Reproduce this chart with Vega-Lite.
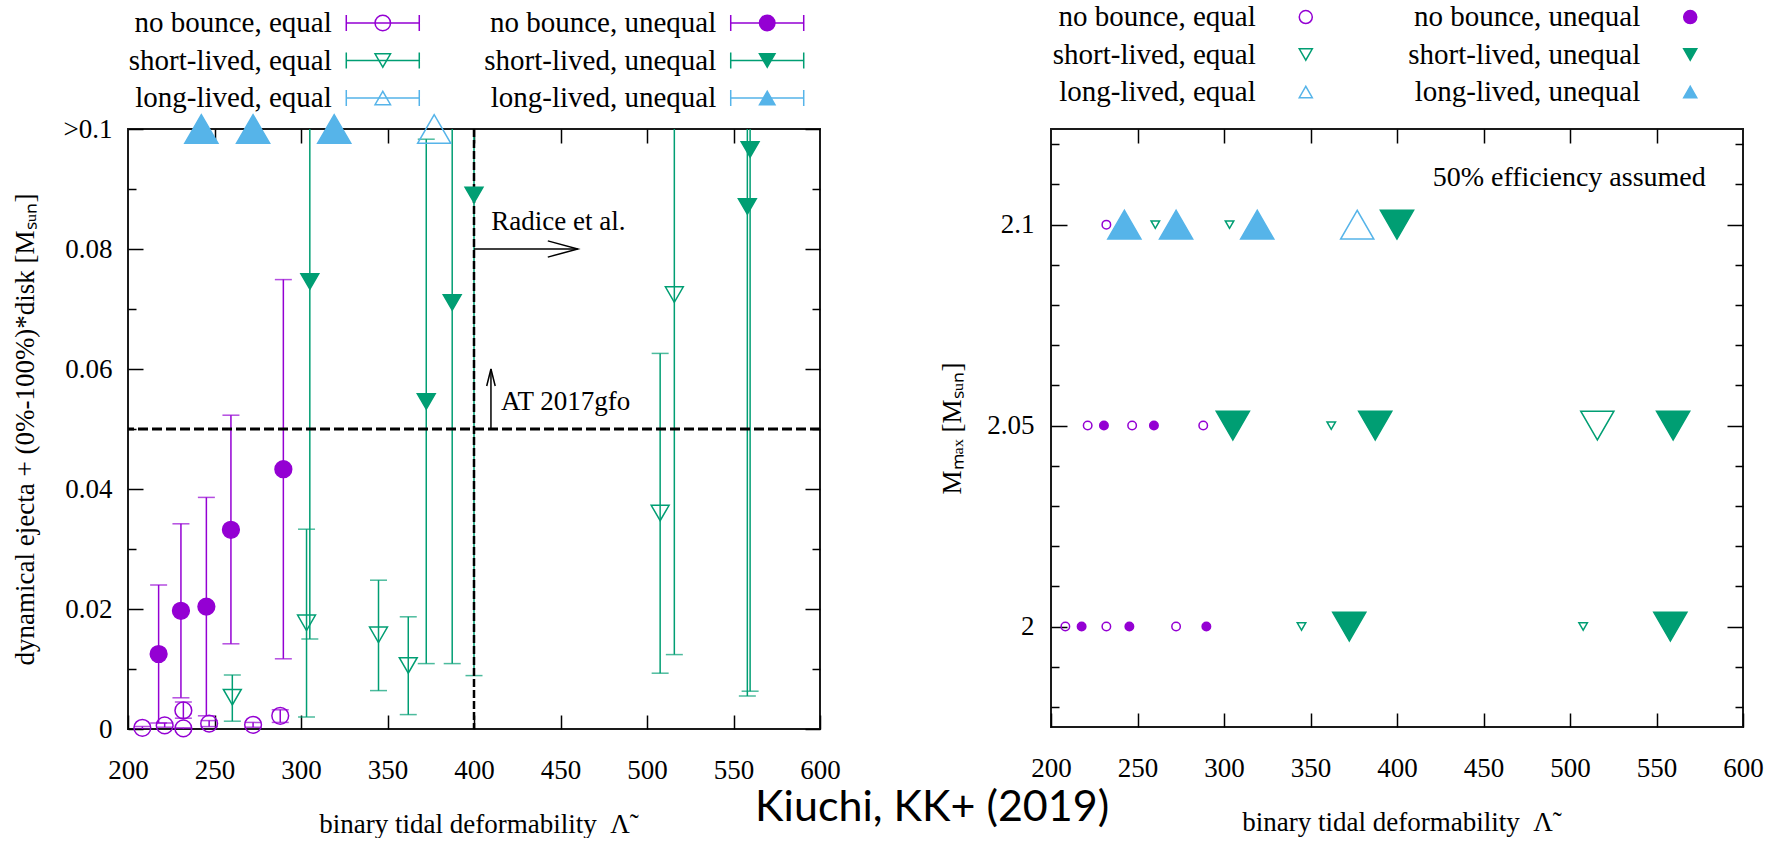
{
  "$schema": "https://vega.github.io/schema/vega-lite/v6.json",
  "background": "white",
  "padding": {"left": 10, "top": 0, "right": 5, "bottom": 0},
  "autosize": {"type": "pad"},
  "title": {"text": "Kiuchi, KK+ (2019)", "orient": "bottom", "anchor": "middle", "font": "Lato", "fontSize": 43, "fontWeight": "normal", "color": "#000", "offset": -51, "dx": 45},
  "config": {
    "font": "Liberation Serif",
    "view": {"stroke": "#1a1a1a", "strokeWidth": 2},
    "axis": {"grid": false, "domain": false, "tickColor": "#000", "tickWidth": 1.5, "labelFont": "Liberation Serif", "labelFontSize": 27, "labelColor": "#000", "titleFont": "Liberation Serif", "titleFontSize": 27, "titleFontWeight": "normal", "titleColor": "#000", "labelFlush": false, "labelOverlap": false, "labelBound": false},
    "legend": {"disable": true}
  },
  "datasets": {
    "runs": [
      {"lam": 208.3, "mmax": 2.0, "model": "no bounce", "ratio": "equal", "mej": 0.0002, "lo": 0.0, "hi": 0.0004},
      {"lam": 221.2, "mmax": 2.05, "model": "no bounce", "ratio": "equal", "mej": 0.0006, "lo": 0.0003, "hi": 0.001},
      {"lam": 232.0, "mmax": 2.1, "model": "no bounce", "ratio": "equal", "mej": 0.0031, "lo": 0.0018, "hi": 0.0045},
      {"lam": 232.0, "mmax": 2.0, "model": "no bounce", "ratio": "equal", "mej": 0.0001, "lo": 0.0, "hi": 0.0002},
      {"lam": 246.9, "mmax": 2.05, "model": "no bounce", "ratio": "equal", "mej": 0.0009, "lo": 0.0004, "hi": 0.0014},
      {"lam": 272.3, "mmax": 2.0, "model": "no bounce", "ratio": "equal", "mej": 0.0007, "lo": 0.0003, "hi": 0.0011},
      {"lam": 288.0, "mmax": 2.05, "model": "no bounce", "ratio": "equal", "mej": 0.0022, "lo": 0.0011, "hi": 0.0032},
      {"lam": 217.7, "mmax": 2.0, "model": "no bounce", "ratio": "unequal", "mej": 0.0125, "lo": 0.001, "hi": 0.024},
      {"lam": 230.6, "mmax": 2.05, "model": "no bounce", "ratio": "unequal", "mej": 0.0197, "lo": 0.0052, "hi": 0.0342},
      {"lam": 245.3, "mmax": 2.0, "model": "no bounce", "ratio": "unequal", "mej": 0.0204, "lo": 0.0022, "hi": 0.0386},
      {"lam": 259.5, "mmax": 2.05, "model": "no bounce", "ratio": "unequal", "mej": 0.0332, "lo": 0.0142, "hi": 0.0523},
      {"lam": 289.8, "mmax": 2.0, "model": "no bounce", "ratio": "unequal", "mej": 0.0433, "lo": 0.0117, "hi": 0.0749},
      {"lam": 260.3, "mmax": 2.1, "model": "short-lived", "ratio": "equal", "mej": 0.0053, "lo": 0.0013, "hi": 0.009},
      {"lam": 303.2, "mmax": 2.1, "model": "short-lived", "ratio": "equal", "mej": 0.0177, "lo": 0.002, "hi": 0.0333},
      {"lam": 344.8, "mmax": 2.0, "model": "short-lived", "ratio": "equal", "mej": 0.0157, "lo": 0.0064, "hi": 0.0248},
      {"lam": 362.0, "mmax": 2.05, "model": "short-lived", "ratio": "equal", "mej": 0.0106, "lo": 0.0024, "hi": 0.0187},
      {"lam": 507.6, "mmax": 2.0, "model": "short-lived", "ratio": "equal", "mej": 0.036, "lo": 0.0093, "hi": 0.0626},
      {"lam": 515.8, "mmax": 2.05, "model": "short-lived", "ratio": "equal", "mej": 0.0724, "lo": 0.0124, "hi": 0.1324},
      {"lam": 305.1, "mmax": 2.05, "model": "short-lived", "ratio": "unequal", "mej": 0.0746, "lo": 0.015, "hi": 0.1342},
      {"lam": 372.4, "mmax": 2.0, "model": "short-lived", "ratio": "unequal", "mej": 0.0546, "lo": 0.0109, "hi": 0.0983},
      {"lam": 387.4, "mmax": 2.05, "model": "short-lived", "ratio": "unequal", "mej": 0.0711, "lo": 0.0109, "hi": 0.1313},
      {"lam": 400.0, "mmax": 2.1, "model": "short-lived", "ratio": "unequal", "mej": 0.089, "lo": 0.0089, "hi": 0.1691},
      {"lam": 559.6, "mmax": 2.05, "model": "short-lived", "ratio": "unequal", "mej": 0.0966, "lo": 0.0063, "hi": 0.1869},
      {"lam": 558.0, "mmax": 2.0, "model": "short-lived", "ratio": "unequal", "mej": 0.0871, "lo": 0.0055, "hi": 0.1687},
      {"lam": 242.4, "mmax": 2.1, "model": "long-lived", "ratio": "unequal", "mej": 0.1},
      {"lam": 272.3, "mmax": 2.1, "model": "long-lived", "ratio": "unequal", "mej": 0.1},
      {"lam": 319.2, "mmax": 2.1, "model": "long-lived", "ratio": "unequal", "mej": 0.1},
      {"lam": 377.0, "mmax": 2.1, "model": "long-lived", "ratio": "equal", "mej": 0.1}
    ],
    "keys": [
      {"model": "no bounce", "ratio": "equal", "label": "no bounce, equal"},
      {"model": "no bounce", "ratio": "unequal", "label": "no bounce, unequal"},
      {"model": "short-lived", "ratio": "equal", "label": "short-lived, equal"},
      {"model": "short-lived", "ratio": "unequal", "label": "short-lived, unequal"},
      {"model": "long-lived", "ratio": "equal", "label": "long-lived, equal"},
      {"model": "long-lived", "ratio": "unequal", "label": "long-lived, unequal"}
    ],
    "notes": [
      {"text": "Radice et al.", "lam": 410, "val": 0.0832},
      {"text": "AT 2017gfo", "lam": 415.6, "val": 0.0532}
    ],
    "arrows": [
      {"name": "Radice et al.", "dir": "right", "lam": 400, "lam2": 460, "val": 0.08, "val2": 0.08},
      {"name": "AT 2017gfo", "dir": "up", "lam": 409.8, "lam2": 409.8, "val": 0.05, "val2": 0.06}
    ]
  },
  "columns": 2,
  "bounds": "flush",
  "spacing": {"row": 8, "column": 231},
  "resolve": {"scale": {"size": "independent", "shape": "independent", "fill": "independent", "stroke": "independent", "fillOpacity": "independent", "color": "independent"}},
  "concat": [
    {
      "width": 692, "height": 121,
      "view": {"stroke": null},
      "data": {"name": "keys"},
      "encoding": {
        "x": {"field": "ratio", "type": "nominal", "axis": null, "scale": {"type": "point", "domain": ["equal", "unequal"], "padding": 0.4}},
        "y": {"field": "model", "type": "nominal", "axis": null, "scale": {"type": "point", "domain": ["no bounce", "short-lived", "long-lived"], "padding": 0.613}}
      },
      "layer": [
        {"mark": {"type": "text", "align": "right", "baseline": "middle", "dx": 50, "fontSize": 29, "font": "Liberation Serif", "color": "#000"}, "encoding": {"text": {"field": "label"}}},
        {"mark": {"type": "point", "shape": "M -1 0 L 1 0 M -1 -0.22 L -1 0.22 M 1 -0.22 L 1 0.22", "size": 5329, "filled": false, "strokeWidth": 1.5, "xOffset": 101, "opacity": 1},
         "encoding": {"stroke": {"field": "model", "type": "nominal", "scale": {"domain": ["no bounce", "short-lived", "long-lived"], "range": ["#9400d3", "#009e73", "#56b4e9"]}, "legend": null}}},
        {"mark": {"type": "point", "filled": true, "strokeWidth": 1.5, "xOffset": 101, "size": 240, "opacity": 1},
         "encoding": {
           "shape": {"field": "model", "type": "nominal", "scale": {"domain": ["no bounce", "short-lived", "long-lived"], "range": ["circle", "triangle-down", "triangle-up"]}, "legend": null},
           "fill": {"field": "model", "type": "nominal", "scale": {"domain": ["no bounce", "short-lived", "long-lived"], "range": ["#9400d3", "#009e73", "#56b4e9"]}, "legend": null},
           "stroke": {"field": "model", "type": "nominal", "scale": {"domain": ["no bounce", "short-lived", "long-lived"], "range": ["#9400d3", "#009e73", "#56b4e9"]}, "legend": null},
           "fillOpacity": {"field": "ratio", "type": "nominal", "scale": {"domain": ["equal", "unequal"], "range": [0, 1]}, "legend": null}
         }}
      ]
    },
    {
      "width": 692, "height": 116,
      "view": {"stroke": null},
      "data": {"name": "keys"},
      "encoding": {
        "x": {"field": "ratio", "type": "nominal", "axis": null, "scale": {"type": "point", "domain": ["equal", "unequal"], "padding": 0.4}},
        "y": {"field": "model", "type": "nominal", "axis": null, "scale": {"type": "point", "domain": ["no bounce", "short-lived", "long-lived"], "padding": 0.547, "align": 0.415}}
      },
      "layer": [
        {"mark": {"type": "text", "align": "right", "baseline": "middle", "dx": 51, "fontSize": 29, "font": "Liberation Serif", "color": "#000"}, "encoding": {"text": {"field": "label"}}},
        {"mark": {"type": "point", "filled": true, "strokeWidth": 1.5, "xOffset": 101, "size": 170, "opacity": 1},
         "encoding": {
           "shape": {"field": "model", "type": "nominal", "scale": {"domain": ["no bounce", "short-lived", "long-lived"], "range": ["circle", "triangle-down", "triangle-up"]}, "legend": null},
           "fill": {"field": "model", "type": "nominal", "scale": {"domain": ["no bounce", "short-lived", "long-lived"], "range": ["#9400d3", "#009e73", "#56b4e9"]}, "legend": null},
           "stroke": {"field": "model", "type": "nominal", "scale": {"domain": ["no bounce", "short-lived", "long-lived"], "range": ["#9400d3", "#009e73", "#56b4e9"]}, "legend": null},
           "fillOpacity": {"field": "ratio", "type": "nominal", "scale": {"domain": ["equal", "unequal"], "range": [0, 1]}, "legend": null}
         }}
      ]
    },
    {
      "width": 692, "height": 600,
      "resolve": {"axis": {"x": "independent", "y": "independent"}},
      "layer": [
        {
          "data": {"name": "runs"},
          "transform": [{"filter": "isValid(datum.lo)"}],
          "mark": {"type": "rule", "strokeWidth": 1.5, "clip": true},
          "encoding": {
            "x": {"field": "lam", "type": "quantitative", "scale": {"domain": [200, 600], "nice": false, "zero": false},
                  "axis": {"orient": "bottom", "values": [200, 250, 300, 350, 400, 450, 500, 550, 600], "tickSize": -14, "labelPadding": 42, "title": "binary tidal deformability\u2002Λ̃", "titlePadding": 28}},
            "y": {"field": "lo", "type": "quantitative", "scale": {"domain": [0, 0.1], "nice": false, "zero": false},
                  "axis": {"orient": "left", "values": [0, 0.02, 0.04, 0.06, 0.08, 0.1], "tickSize": -15, "labelPadding": 31, "labelExpr": "datum.value > 0.099 ? '>0.1' : format(datum.value, '~g')", "title": "dynamical ejecta + (0%-100%)*disk [Mₛᵤₙ]", "titlePadding": 24}},
            "y2": {"field": "hi"},
            "stroke": {"field": "model", "type": "nominal", "scale": {"domain": ["no bounce", "short-lived", "long-lived"], "range": ["#9400d3", "#009e73", "#56b4e9"]}, "legend": null}
          }
        },
        {
          "data": {"name": "runs"},
          "transform": [{"filter": "isValid(datum.lo)"}],
          "mark": {"type": "tick", "orient": "horizontal", "size": 17, "thickness": 1.5, "clip": true},
          "encoding": {
            "x": {"field": "lam", "type": "quantitative", "scale": {"domain": [200, 600], "nice": false, "zero": false},
                  "axis": {"orient": "top", "values": [250, 300, 350, 400, 450, 500, 550], "tickSize": -14, "labels": false, "title": null}},
            "y": {"field": "lo", "type": "quantitative", "scale": {"domain": [0, 0.1], "nice": false, "zero": false},
                  "axis": {"orient": "right", "values": [0, 0.02, 0.04, 0.06, 0.08, 0.1], "tickSize": -15, "labels": false, "title": null}},
            "color": {"field": "model", "type": "nominal", "scale": {"domain": ["no bounce", "short-lived", "long-lived"], "range": ["#9400d3", "#009e73", "#56b4e9"]}, "legend": null}
          }
        },
        {
          "data": {"name": "runs"},
          "transform": [{"filter": "isValid(datum.hi)"}],
          "mark": {"type": "tick", "orient": "horizontal", "size": 17, "thickness": 1.5, "clip": true},
          "encoding": {
            "x": {"field": "lam", "type": "quantitative", "scale": {"domain": [200, 600], "nice": false, "zero": false}, "axis": null},
            "y": {"field": "hi", "type": "quantitative", "scale": {"domain": [0, 0.1], "nice": false, "zero": false},
                  "axis": {"orient": "left", "values": [0.01, 0.03, 0.05, 0.07, 0.09], "tickSize": -8, "labels": false, "title": null}},
            "color": {"field": "model", "type": "nominal", "scale": {"domain": ["no bounce", "short-lived", "long-lived"], "range": ["#9400d3", "#009e73", "#56b4e9"]}, "legend": null}
          }
        },
        {
          "data": {"values": [{"line": "Radice et al.", "lam": 400}]},
          "mark": {"type": "rule", "color": "#000", "strokeWidth": 2.5, "strokeDash": [8, 3]},
          "encoding": {
            "x": {"field": "lam", "type": "quantitative", "scale": {"domain": [200, 600], "nice": false, "zero": false}, "axis": null}
          }
        },
        {
          "data": {"values": [{"line": "AT 2017gfo", "val": 0.05}]},
          "mark": {"type": "rule", "color": "#000", "strokeWidth": 3, "strokeDash": [10, 4]},
          "encoding": {
            "y": {"field": "val", "type": "quantitative", "scale": {"domain": [0, 0.1], "nice": false, "zero": false}, "axis": null}
          }
        },
        {
          "data": {"name": "runs"},
          "mark": {"type": "point", "filled": true, "strokeWidth": 1.5, "opacity": 1, "clip": false},
          "encoding": {
            "x": {"field": "lam", "type": "quantitative", "scale": {"domain": [200, 600], "nice": false, "zero": false}, "axis": null},
            "y": {"field": "mej", "type": "quantitative", "scale": {"domain": [0, 0.1], "nice": false, "zero": false},
                  "axis": {"orient": "right", "values": [0.01, 0.03, 0.05, 0.07, 0.09], "tickSize": -8, "labels": false, "title": null}},
            "shape": {"field": "model", "type": "nominal", "scale": {"domain": ["no bounce", "short-lived", "long-lived"], "range": ["circle", "triangle-down", "triangle-up"]}, "legend": null},
            "fill": {"field": "model", "type": "nominal", "scale": {"domain": ["no bounce", "short-lived", "long-lived"], "range": ["#9400d3", "#009e73", "#56b4e9"]}, "legend": null},
            "stroke": {"field": "model", "type": "nominal", "scale": {"domain": ["no bounce", "short-lived", "long-lived"], "range": ["#9400d3", "#009e73", "#56b4e9"]}, "legend": null},
            "fillOpacity": {"field": "ratio", "type": "nominal", "scale": {"domain": ["equal", "unequal"], "range": [0, 1]}, "legend": null},
            "size": {"field": "model", "type": "nominal", "scale": {"type": "ordinal", "domain": ["no bounce", "short-lived", "long-lived"], "range": [280, 320, 1100]}, "legend": null}
          }
        },
        {
          "data": {"name": "arrows"},
          "mark": {"type": "rule", "color": "#000", "strokeWidth": 1.5},
          "encoding": {
            "x": {"field": "lam", "type": "quantitative", "scale": {"domain": [200, 600], "nice": false, "zero": false}, "axis": null},
            "x2": {"field": "lam2"},
            "y": {"field": "val", "type": "quantitative", "scale": {"domain": [0, 0.1], "nice": false, "zero": false}, "axis": null},
            "y2": {"field": "val2"}
          }
        },
        {
          "data": {"name": "arrows"},
          "transform": [{"filter": "datum.dir == 'right'"}],
          "mark": {"type": "point", "shape": "M -1 -0.27 L 0 0 L -1 0.27", "size": 3600, "filled": false, "stroke": "#000", "strokeWidth": 1.5, "opacity": 1},
          "encoding": {
            "x": {"field": "lam2", "type": "quantitative", "scale": {"domain": [200, 600], "nice": false, "zero": false}, "axis": null},
            "y": {"field": "val2", "type": "quantitative", "scale": {"domain": [0, 0.1], "nice": false, "zero": false}, "axis": null}
          }
        },
        {
          "data": {"name": "arrows"},
          "transform": [{"filter": "datum.dir == 'up'"}],
          "mark": {"type": "point", "shape": "M -0.25 1 L 0 0 L 0.25 1", "size": 1156, "filled": false, "stroke": "#000", "strokeWidth": 1.5, "opacity": 1},
          "encoding": {
            "x": {"field": "lam2", "type": "quantitative", "scale": {"domain": [200, 600], "nice": false, "zero": false}, "axis": null},
            "y": {"field": "val2", "type": "quantitative", "scale": {"domain": [0, 0.1], "nice": false, "zero": false}, "axis": null}
          }
        },
        {
          "data": {"name": "notes"},
          "mark": {"type": "text", "align": "left", "baseline": "alphabetic", "fontSize": 27, "font": "Liberation Serif", "color": "#000"},
          "encoding": {
            "x": {"field": "lam", "type": "quantitative", "scale": {"domain": [200, 600], "nice": false, "zero": false}, "axis": null},
            "y": {"field": "val", "type": "quantitative", "scale": {"domain": [0, 0.1], "nice": false, "zero": false}, "axis": null},
            "text": {"field": "text"}
          }
        }
      ]
    },
    {
      "width": 692, "height": 598,
      "resolve": {"axis": {"x": "independent", "y": "independent"}},
      "layer": [
        {
          "data": {"name": "runs"},
          "transform": [{"filter": "datum.model == 'no bounce'"}],
          "mark": {"type": "point", "filled": true, "strokeWidth": 1.5, "opacity": 1, "clip": false},
          "encoding": {
            "x": {"field": "lam", "type": "quantitative", "scale": {"domain": [200, 600], "nice": false, "zero": false},
                  "axis": {"orient": "bottom", "values": [200, 250, 300, 350, 400, 450, 500, 550, 600], "tickSize": -14, "labelPadding": 42, "title": "binary tidal deformability\u2002Λ̃", "titlePadding": 28}},
            "y": {"field": "mmax", "type": "quantitative", "scale": {"domain": [1.975, 2.1238], "nice": false, "zero": false},
                  "axis": {"orient": "left", "values": [2, 2.05, 2.1], "tickSize": -16, "labelPadding": 33, "labelExpr": "format(datum.value, '~g')", "title": "Mₘₐₓ [Mₛᵤₙ]", "titlePadding": 20}},
            "shape": {"field": "model", "type": "nominal", "scale": {"domain": ["no bounce", "short-lived", "long-lived"], "range": ["circle", "triangle-down", "triangle-up"]}, "legend": null},
            "fill": {"field": "model", "type": "nominal", "scale": {"domain": ["no bounce", "short-lived", "long-lived"], "range": ["#9400d3", "#009e73", "#56b4e9"]}, "legend": null},
            "stroke": {"field": "model", "type": "nominal", "scale": {"domain": ["no bounce", "short-lived", "long-lived"], "range": ["#9400d3", "#009e73", "#56b4e9"]}, "legend": null},
            "fillOpacity": {"field": "ratio", "type": "nominal", "scale": {"domain": ["equal", "unequal"], "range": [0, 1]}, "legend": null},
            "size": {"field": "mej", "type": "quantitative", "scale": {"type": "threshold", "domain": [0.05], "range": [72, 1100]}, "legend": null}
          }
        },
        {
          "data": {"name": "runs"},
          "transform": [{"filter": "datum.model == 'short-lived'"}],
          "mark": {"type": "point", "filled": true, "strokeWidth": 1.5, "opacity": 1, "clip": false},
          "encoding": {
            "x": {"field": "lam", "type": "quantitative", "scale": {"domain": [200, 600], "nice": false, "zero": false},
                  "axis": {"orient": "top", "values": [250, 300, 350, 400, 450, 500, 550], "tickSize": -14, "labels": false, "title": null}},
            "y": {"field": "mmax", "type": "quantitative", "scale": {"domain": [1.975, 2.1238], "nice": false, "zero": false},
                  "axis": {"orient": "right", "values": [2, 2.05, 2.1], "tickSize": -16, "labels": false, "title": null}},
            "shape": {"field": "model", "type": "nominal", "scale": {"domain": ["no bounce", "short-lived", "long-lived"], "range": ["circle", "triangle-down", "triangle-up"]}, "legend": null},
            "fill": {"field": "model", "type": "nominal", "scale": {"domain": ["no bounce", "short-lived", "long-lived"], "range": ["#9400d3", "#009e73", "#56b4e9"]}, "legend": null},
            "stroke": {"field": "model", "type": "nominal", "scale": {"domain": ["no bounce", "short-lived", "long-lived"], "range": ["#9400d3", "#009e73", "#56b4e9"]}, "legend": null},
            "fillOpacity": {"field": "ratio", "type": "nominal", "scale": {"domain": ["equal", "unequal"], "range": [0, 1]}, "legend": null},
            "size": {"field": "mej", "type": "quantitative", "scale": {"type": "threshold", "domain": [0.05], "range": [72, 1100]}, "legend": null}
          }
        },
        {
          "data": {"name": "runs"},
          "transform": [{"filter": "datum.model == 'long-lived'"}],
          "mark": {"type": "point", "filled": true, "strokeWidth": 1.5, "opacity": 1, "clip": false},
          "encoding": {
            "x": {"field": "lam", "type": "quantitative", "scale": {"domain": [200, 600], "nice": false, "zero": false}, "axis": null},
            "y": {"field": "mmax", "type": "quantitative", "scale": {"domain": [1.975, 2.1238], "nice": false, "zero": false},
                  "axis": {"orient": "left", "values": [1.98, 1.99, 2.01, 2.02, 2.03, 2.04, 2.06, 2.07, 2.08, 2.09, 2.11, 2.12], "tickSize": -8, "labels": false, "title": null}},
            "shape": {"field": "model", "type": "nominal", "scale": {"domain": ["no bounce", "short-lived", "long-lived"], "range": ["circle", "triangle-down", "triangle-up"]}, "legend": null},
            "fill": {"field": "model", "type": "nominal", "scale": {"domain": ["no bounce", "short-lived", "long-lived"], "range": ["#9400d3", "#009e73", "#56b4e9"]}, "legend": null},
            "stroke": {"field": "model", "type": "nominal", "scale": {"domain": ["no bounce", "short-lived", "long-lived"], "range": ["#9400d3", "#009e73", "#56b4e9"]}, "legend": null},
            "fillOpacity": {"field": "ratio", "type": "nominal", "scale": {"domain": ["equal", "unequal"], "range": [0, 1]}, "legend": null},
            "size": {"field": "mej", "type": "quantitative", "scale": {"type": "threshold", "domain": [0.05], "range": [72, 1100]}, "legend": null}
          }
        },
        {
          "data": {"values": [{"text": "50% efficiency assumed", "lam": 578.5, "mmax": 2.1097}]},
          "mark": {"type": "text", "align": "right", "baseline": "alphabetic", "fontSize": 28, "font": "Liberation Serif", "color": "#000"},
          "encoding": {
            "x": {"field": "lam", "type": "quantitative", "scale": {"domain": [200, 600], "nice": false, "zero": false}, "axis": null},
            "y": {"field": "mmax", "type": "quantitative", "scale": {"domain": [1.975, 2.1238], "nice": false, "zero": false},
                  "axis": {"orient": "right", "values": [1.98, 1.99, 2.01, 2.02, 2.03, 2.04, 2.06, 2.07, 2.08, 2.09, 2.11, 2.12], "tickSize": -8, "labels": false, "title": null}},
            "text": {"field": "text"}
          }
        }
      ]
    }
  ]
}
